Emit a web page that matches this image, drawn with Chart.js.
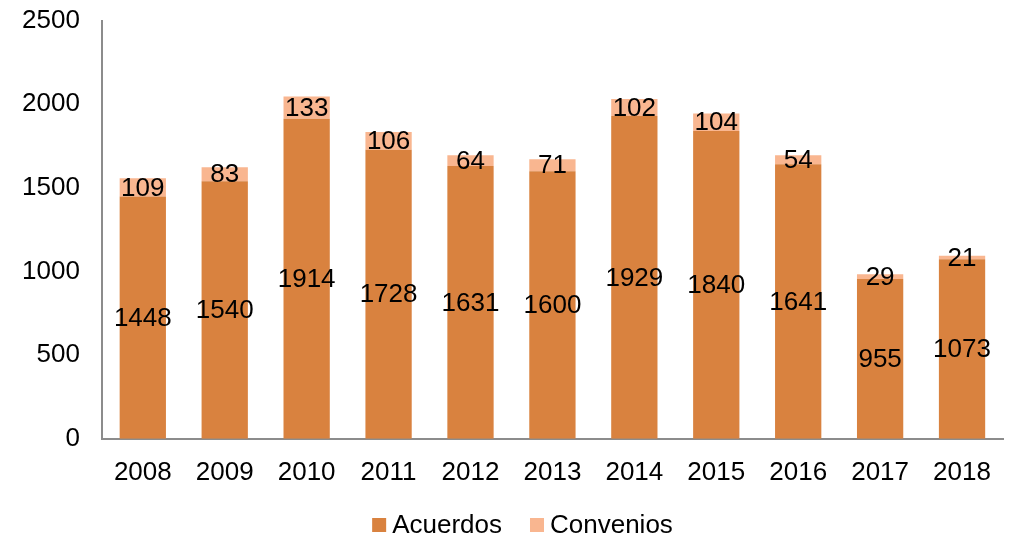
<!DOCTYPE html>
<html>
<head>
<meta charset="utf-8">
<script src="https://cdn.jsdelivr.net/npm/chart.js@4"></script>
<style>
  html, body { margin: 0; padding: 0; background: #fff; overflow: hidden; }
  #wrap { width: 1015px; height: 556px; margin-top: -17px; }
</style>
</head>
<body>
<div id="wrap"><canvas id="chart"></canvas></div>
<script>
    // data
    const years = ['2008', '2009', '2010', '2011', '2012', '2013', '2014', '2015', '2016', '2017', '2018'];
    const acuerdos = [1448, 1540, 1914, 1728, 1631, 1600, 1929, 1840, 1641, 955, 1073];
    const convenios = [109, 83, 133, 106, 64, 71, 102, 104, 54, 29, 21];
    const yTicks = [0, 500, 1000, 1500, 2000, 2500];

    const fontFamily = '"Liberation Sans", Arial, sans-serif';
    const colors = ['#D9823F', '#F9B690'];

    // value labels centred in each segment
    const segmentLabels = {
        id: 'segmentLabels',
        afterDatasetsDraw: function (chart) {
            const ctx = chart.ctx;
            ctx.save();
            ctx.font = '26px ' + fontFamily;
            ctx.fillStyle = '#000';
            ctx.textAlign = 'center';
            ctx.textBaseline = 'middle';
            chart.data.datasets.forEach(function (ds, i) {
                chart.getDatasetMeta(i).data.forEach(function (bar, j) {
                    const mid = (bar.y + bar.base) / 2;
                    ctx.fillText(String(ds.data[j]), bar.x, mid + 1);
                });
            });
            ctx.restore();
        }
    };

    // legend drawn by hand, tight box-to-text gap like the original
    const bottomLegend = {
        id: 'bottomLegend',
        afterDraw: function (chart) {
            const ctx = chart.ctx;
            const box = 14, gap = 6, spacing = 28;
            const y = chart.height - 14;
            ctx.save();
            ctx.font = '26px ' + fontFamily;
            ctx.textBaseline = 'middle';
            const items = chart.data.datasets.map(function (ds) {
                return { text: ds.label, color: ds.backgroundColor, w: ctx.measureText(ds.label).width };
            });
            let total = 0;
            items.forEach(function (it, i) {
                total += box + gap + it.w + (i < items.length - 1 ? spacing : 0);
            });
            let x = chart.width / 2 + 15 - total / 2;
            items.forEach(function (it) {
                ctx.fillStyle = it.color;
                ctx.fillRect(x, y - box / 2, box, box);
                ctx.fillStyle = '#000';
                ctx.fillText(it.text, x + box + gap, y + 1);
                x += box + gap + it.w + spacing;
            });
            ctx.restore();
        }
    };

    const ctx = document.getElementById('chart');
    new Chart(ctx, {
        type: 'bar',
        data: {
            labels: years,
            datasets: [{
                label: 'Acuerdos',
                data: acuerdos,
                backgroundColor: colors[0],
                categoryPercentage: 1,
                barPercentage: 0.565
            }, {
                label: 'Convenios',
                data: convenios,
                backgroundColor: colors[1],
                categoryPercentage: 1,
                barPercentage: 0.565
            }]
        },
        options: {
            responsive: true,
            maintainAspectRatio: false,
            animation: false,
            layout: { padding: { top: 0, right: 12, left: 0, bottom: 33 } },
            plugins: {
                tooltip: { enabled: false },
                legend: { display: false }
            },
            scales: {
                x: {
                    stacked: true,
                    grid: { display: false, drawTicks: false },
                    border: { display: true, color: '#8c8c8c', width: 2 },
                    ticks: {
                        color: '#000',
                        padding: 18,
                        font: { size: 26, family: fontFamily }
                    }
                },
                y: {
                    stacked: true,
                    min: 0,
                    max: 2500,
                    afterBuildTicks: function (axis) {
                        axis.ticks = yTicks.map(function (v) { return { value: v }; });
                    },
                    grid: { display: false, drawTicks: false },
                    border: { display: true, color: '#8c8c8c', width: 2 },
                    ticks: {
                        color: '#000',
                        padding: 22,
                        font: { size: 26, family: fontFamily },
                        callback: function (v) { return String(v); }
                    }
                }
            }
        },
        plugins: [segmentLabels, bottomLegend]
    });
</script>
</body>
</html>
